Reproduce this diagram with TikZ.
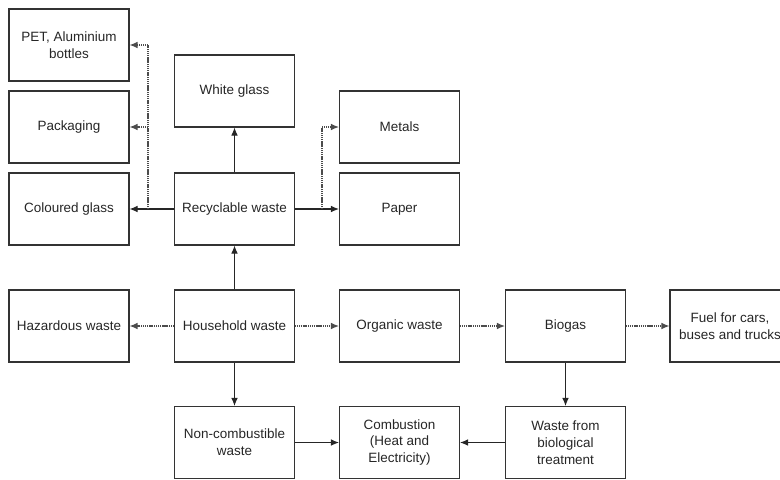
\documentclass[tikz,border=0pt]{standalone}
\usepackage{fontspec}
\setmainfont{Liberation Sans}
\usepackage{xcolor}
\usetikzlibrary{arrows.meta}

\begin{document}
\begin{tikzpicture}[x=0.75pt, y=-0.75pt,
  box/.style={draw=black!80, line width=0.8pt, rectangle, minimum width=90pt, minimum height=54pt, inner sep=2pt, align=center, font=\fontsize{10.1}{12.6}\selectfont, text=black!85},
  flow/.style={-{Latex[length=6pt, width=5pt]}, line width=0.8pt, black!85},
  faint/.style={-{Latex[length=6pt, width=5pt]}, line width=0.9pt, black!70, dash pattern=on 0.9pt off 0.5pt},
]
  \useasboundingbox (0,0) rectangle (780,479);

  % Recycling column boxes
  \node[box] (pet) at (69,45) {PET, Aluminium\\bottles};
  \node[box] (pack) at (69,127) {Packaging};
  \node[box] (cglass) at (69,209) {Coloured glass};
  \node[box] (wglass) at (234.5,91) {White glass};
  \node[box] (recyc) at (234.5,209) {Recyclable waste};
  \node[box] (metals) at (399.5,127) {Metals};
  \node[box] (paper) at (399.5,209) {Paper};

  % Main row
  \node[box] (hazard) at (69,326) {Hazardous waste};
  \node[box] (house) at (234.5,326) {Household waste};
  \node[box] (organic) at (399.5,326) {Organic waste};
  \node[box] (biogas) at (565.5,326) {Biogas};
  \node[box] (fuel) at (730,326) {Fuel for cars,\\buses and trucks};

  % Bottom row
  \node[box] (noncomb) at (234.5,442.5) {Non-combustible\\waste};
  \node[box] (combust) at (399.5,442.5) {Combustion\\(Heat and\\Electricity)};
  \node[box] (biowaste) at (565.5,442.5) {Waste from\\biological\\treatment};

  % Split points
  \coordinate (lsplit) at (148,209);
  \coordinate (rsplit) at (322,209);

  % Recyclable waste
  \draw[flow] (recyc) -- (wglass);
  \draw[flow] (recyc) -- (cglass);
  \draw[flow] (recyc) -- (paper);
  \draw[faint] (lsplit) |- (pet.east);
  \draw[faint] (lsplit) |- (pack.east);
  \draw[faint] (rsplit) |- (metals.west);

  % Household waste
  \draw[flow] (house) -- (recyc);
  \draw[flow] (house) -- (noncomb);
  \draw[faint] (house) -- (hazard);
  \draw[faint] (house) -- (organic);
  \draw[faint] (organic) -- (biogas);
  \draw[faint] (biogas) -- (fuel);

  % Residues
  \draw[flow] (biogas) -- (biowaste);
  \draw[flow] (noncomb) -- (combust);
  \draw[flow] (biowaste) -- (combust);

\end{tikzpicture}
\end{document}
